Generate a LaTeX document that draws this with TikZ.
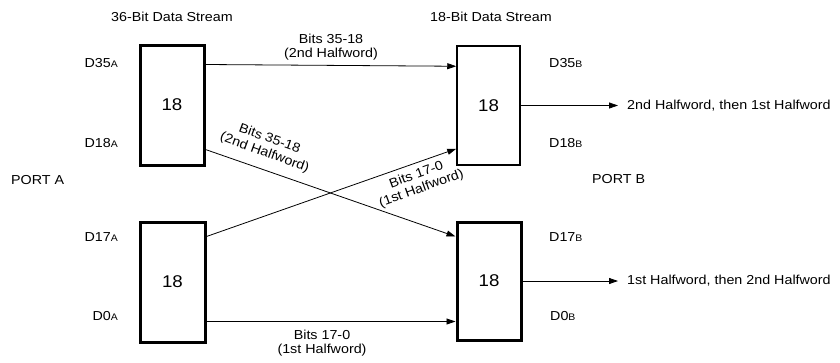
\documentclass[tikz,border=0pt]{standalone}
\usepackage{fontspec}
\setmainfont{Liberation Sans}[FakeStretch=1.1]
\usetikzlibrary{arrows.meta}
\newcommand{\sfx}[1]{{\fontsize{9.5}{10}\selectfont #1}}
\begin{document}
\begin{tikzpicture}[x=1pt,y=-1pt,
  every node/.style={font=\fontsize{13}{15}\selectfont, inner sep=0pt},
  thickbox/.style={draw, line width=3pt, minimum width=64pt, minimum height=120pt, font=\fontsize{17}{17}\selectfont},
  thinbox/.style={draw, line width=1.5pt, minimum width=63pt, minimum height=119pt, font=\fontsize{17}{17}\selectfont},
  conn/.style={line width=0.8pt, -{Triangle[length=9pt,width=6pt]}},
  lbl/.style={align=center, font=\fontsize{13}{14.5}\selectfont}
]
\useasboundingbox (0,0) rectangle (840,362);

\node (t1) at (172,17) {36-Bit Data Stream};
\node (t2) at (491,17) {18-Bit Data Stream};

\node[thickbox] (A1) at (172,105) {18};
\node[thickbox, minimum width=65pt] (A2) at (172.5,282) {18};
\node[thinbox] (B1) at (488.5,105.5) {18};
\node[thickbox, minimum height=118pt] (B2) at (489,281) {18};

\node[anchor=east] (d35a) at (118,63) {D35\sfx{A}};
\node[anchor=east] (d18a) at (118,143) {D18\sfx{A}};
\node[anchor=east] (d17a) at (118,237) {D17\sfx{A}};
\node[anchor=east] (d0a) at (118,316) {D0\sfx{A}};
\node[anchor=west] (pa) at (11,180) {PORT A};

\node[anchor=west] (d35b) at (549,63) {D35\sfx{B}};
\node[anchor=west] (d18b) at (549,143) {D18\sfx{B}};
\node[anchor=west] (d17b) at (549,237) {D17\sfx{B}};
\node[anchor=west] (d0b) at (550,316) {D0\sfx{B}};
\node[anchor=west] (pb) at (592,179) {PORT B};

\draw[conn] ([yshift=-21pt]A1.north east) -- ([yshift=-21pt]B1.north west);
\draw[conn] ([yshift=17pt]A1.south east) -- ([yshift=-16pt]B2.north west);
\draw[conn] ([yshift=-16pt]A2.north east) -- ([yshift=17pt]B1.south west);
\draw[conn] ([yshift=22pt]A2.south east) -- ([yshift=20pt]B2.south west);

\coordinate (o1) at (618,105.5);
\coordinate (o2) at (618,281);
\draw[conn] (B1.east) -- (o1);
\draw[conn] (B2.east) -- (o2);
\node[anchor=west] (out1) at (627,105.5) {2nd Halfword, then 1st Halfword};
\node[anchor=west] (out2) at (627,281) {1st Halfword, then 2nd Halfword};

\node[lbl] (l1) at (331,47) {Bits 35-18\\(2nd Halfword)};
\node[lbl] (l4) at (322,343) {Bits 17-0\\(1st Halfword)};
\node[lbl, rotate=-20] (l2) at (267,146) {Bits 35-18\\(2nd Halfword)};
\node[lbl, rotate=20] (l3) at (419,182) {Bits 17-0\\(1st Halfword)};
\end{tikzpicture}
\end{document}
